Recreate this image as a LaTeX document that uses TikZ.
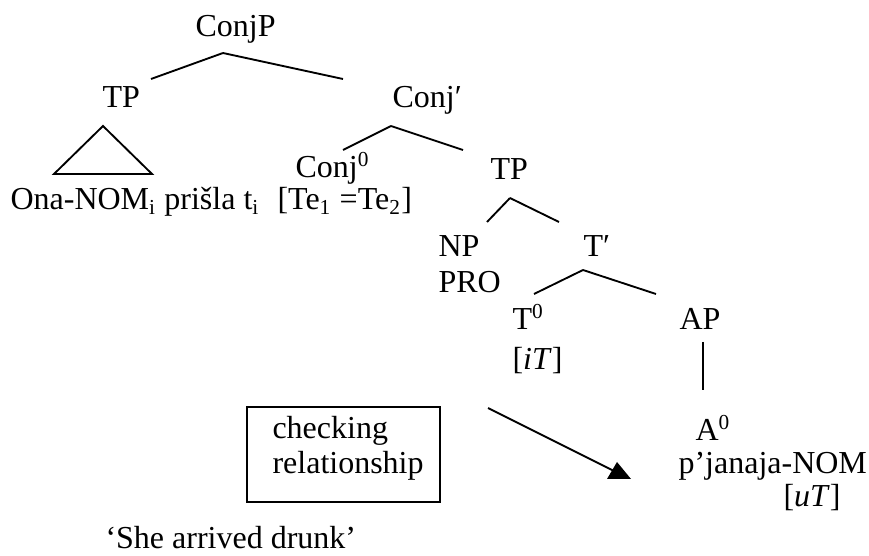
\documentclass[tikz,border=0pt]{standalone}
\usepackage{fontspec}
\setmainfont{Liberation Serif}
\usepackage{tikz}

\begin{document}
\begin{tikzpicture}[x=0.375pt,y=-0.375pt,
  lbl/.style={anchor=base west,inner sep=0pt,font=\fontsize{12}{14}\selectfont},
  branch/.style={-,draw=black,line width=0.7pt}]
\useasboundingbox (0,0) rectangle (869,556);
\node[lbl] (0) at (195,37) {ConjP};
\node[lbl] (1) at (102,108) {TP};
\node[lbl] (2) at (392,108) {Conj′};
\node[lbl] (3) at (10,210) {Ona-NOM\textsubscript{i} prišla t\textsubscript{i}};
\node[lbl] (4) at (295,178) {Conj\textsuperscript{0}};
\node[lbl] (5) at (277,210) {[Te\textsubscript{1} =Te\textsubscript{2}]};
\node[lbl] (6) at (490,180) {TP};
\node[lbl] (7) at (438,257) {NP};
\node[lbl] (8) at (438,293) {PRO};
\node[lbl] (9) at (583,257) {T′};
\node[lbl] (10) at (512,330) {T\textsuperscript{0}};
\node[lbl] (11) at (512,370) {[\textit{iT}]};
\node[lbl] (12) at (679,330) {AP};
\node[lbl] (13) at (695,441) {A\textsuperscript{0}};
\node[lbl] (14) at (678,474) {p’janaja-NOM};
\node[lbl] (15) at (783,506) {[\textit{uT}]};
\node[lbl] (16) at (105,548) {‘She arrived drunk’};
\node[lbl] (17) at (272,439) {checking};
\node[lbl] (18) at (272,473) {relationship};
\draw[line width=0.7pt] (247,407) rectangle (440,502);

\coordinate (a0) at (223,53);
\coordinate (a1) at (151,79);
\coordinate (a2) at (343,79);
\coordinate (b0) at (391,126);
\coordinate (b1) at (343,150);
\coordinate (b2) at (463,150);
\coordinate (c0) at (510,198);
\coordinate (c1) at (487,222);
\coordinate (c2) at (559,222);
\coordinate (d0) at (583,270);
\coordinate (d1) at (534,294);
\coordinate (d2) at (656,294);
\coordinate (e0) at (703,342);
\coordinate (e1) at (703,390);
\coordinate (t0) at (103,126);
\coordinate (t1) at (54,174);
\coordinate (t2) at (152,174);
\coordinate (f0) at (488,408);
\coordinate (f1) at (614,471);

\path [branch] (a0) edge (a1);
\path [branch] (a0) edge (a2);
\path [branch] (b0) edge (b1);
\path [branch] (b0) edge (b2);
\path [branch] (c0) edge (c1);
\path [branch] (c0) edge (c2);
\path [branch] (d0) edge (d1);
\path [branch] (d0) edge (d2);
\path [branch] (e0) edge (e1);
\draw [branch] (t0) -- (t1) -- (t2) -- cycle;
\path [branch] (f0) edge (f1);
\fill (617,462) -- (607,479) -- (631,479) -- cycle;
\end{tikzpicture}
\end{document}
